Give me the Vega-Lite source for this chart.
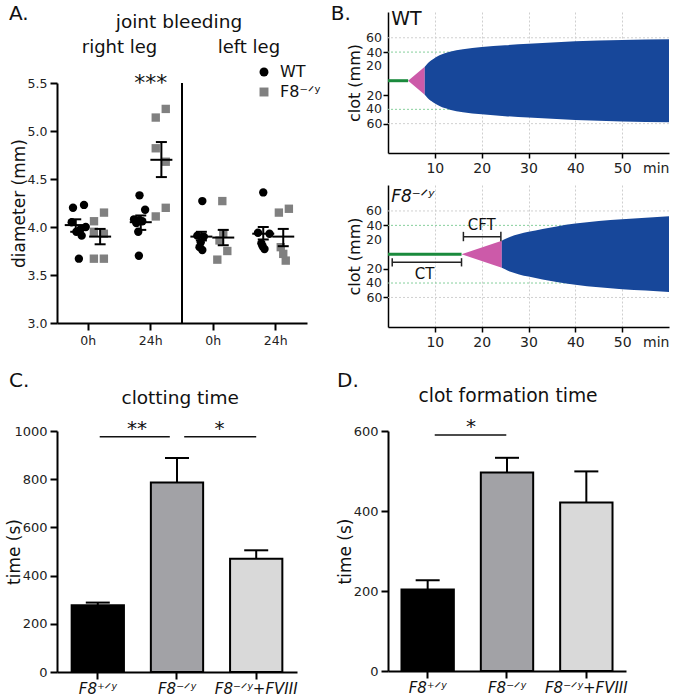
{
  "$schema": "https://vega.github.io/schema/vega-lite/v6.json",
  "padding": {"left": 5, "top": 4, "right": 3, "bottom": 1},
  "config": {
    "font": "DejaVu Sans",
    "view": {"stroke": null},
    "axis": {"domainColor": "#000", "domainWidth": 2, "tickColor": "#000", "tickWidth": 2, "tickSize": 7, "labelColor": "#222", "labelFontSize": 13, "labelPadding": 3, "labelOverlap": false, "titleFontWeight": "normal", "titleColor": "#111", "titleFontSize": 17, "grid": false},
    "legend": {"labelColor": "#111", "padding": 0},
    "title": {"fontWeight": "normal", "color": "#111"},
    "text": {"color": "#111", "baseline": "alphabetic"}
  },
  "datasets": {
    "jointPoints": [
      {"group": "R0h", "genotype": "WT", "diameter": 4.20, "jitter": -0.244},
      {"group": "R0h", "genotype": "WT", "diameter": 4.23, "jitter": -0.068},
      {"group": "R0h", "genotype": "WT", "diameter": 4.05, "jitter": -0.265},
      {"group": "R0h", "genotype": "WT", "diameter": 3.95, "jitter": -0.19},
      {"group": "R0h", "genotype": "WT", "diameter": 3.91, "jitter": -0.105},
      {"group": "R0h", "genotype": "WT", "diameter": 4.00, "jitter": -0.04},
      {"group": "R0h", "genotype": "WT", "diameter": 3.98, "jitter": -0.12},
      {"group": "R0h", "genotype": "WT", "diameter": 3.67, "jitter": -0.15},
      {"group": "R0h", "genotype": "F8\u207b\u141f\u02b8", "diameter": 4.15, "jitter": 0.252},
      {"group": "R0h", "genotype": "F8\u207b\u141f\u02b8", "diameter": 4.06, "jitter": 0.092},
      {"group": "R0h", "genotype": "F8\u207b\u141f\u02b8", "diameter": 3.95, "jitter": 0.09},
      {"group": "R0h", "genotype": "F8\u207b\u141f\u02b8", "diameter": 3.93, "jitter": 0.25},
      {"group": "R0h", "genotype": "F8\u207b\u141f\u02b8", "diameter": 3.67, "jitter": 0.09},
      {"group": "R0h", "genotype": "F8\u207b\u141f\u02b8", "diameter": 3.67, "jitter": 0.25},
      {"group": "R24h", "genotype": "WT", "diameter": 4.33, "jitter": -0.18},
      {"group": "R24h", "genotype": "WT", "diameter": 4.18, "jitter": -0.09},
      {"group": "R24h", "genotype": "WT", "diameter": 4.08, "jitter": -0.268},
      {"group": "R24h", "genotype": "WT", "diameter": 4.07, "jitter": -0.188},
      {"group": "R24h", "genotype": "WT", "diameter": 4.06, "jitter": -0.135},
      {"group": "R24h", "genotype": "WT", "diameter": 4.04, "jitter": -0.23},
      {"group": "R24h", "genotype": "WT", "diameter": 3.95, "jitter": -0.2},
      {"group": "R24h", "genotype": "WT", "diameter": 3.70, "jitter": -0.19},
      {"group": "R24h", "genotype": "F8\u207b\u141f\u02b8", "diameter": 5.14, "jitter": 0.08},
      {"group": "R24h", "genotype": "F8\u207b\u141f\u02b8", "diameter": 5.23, "jitter": 0.24},
      {"group": "R24h", "genotype": "F8\u207b\u141f\u02b8", "diameter": 4.82, "jitter": 0.08},
      {"group": "R24h", "genotype": "F8\u207b\u141f\u02b8", "diameter": 4.68, "jitter": 0.24},
      {"group": "R24h", "genotype": "F8\u207b\u141f\u02b8", "diameter": 4.20, "jitter": 0.24},
      {"group": "R24h", "genotype": "F8\u207b\u141f\u02b8", "diameter": 4.11, "jitter": 0.08},
      {"group": "L0h", "genotype": "WT", "diameter": 4.27, "jitter": -0.175},
      {"group": "L0h", "genotype": "WT", "diameter": 3.91, "jitter": -0.255},
      {"group": "L0h", "genotype": "WT", "diameter": 3.90, "jitter": -0.15},
      {"group": "L0h", "genotype": "WT", "diameter": 3.84, "jitter": -0.2},
      {"group": "L0h", "genotype": "WT", "diameter": 3.76, "jitter": -0.175},
      {"group": "L0h", "genotype": "WT", "diameter": 3.79, "jitter": -0.22},
      {"group": "L0h", "genotype": "F8\u207b\u141f\u02b8", "diameter": 4.27, "jitter": 0.145},
      {"group": "L0h", "genotype": "F8\u207b\u141f\u02b8", "diameter": 3.93, "jitter": 0.16},
      {"group": "L0h", "genotype": "F8\u207b\u141f\u02b8", "diameter": 3.86, "jitter": 0.1},
      {"group": "L0h", "genotype": "F8\u207b\u141f\u02b8", "diameter": 3.75, "jitter": 0.225},
      {"group": "L0h", "genotype": "F8\u207b\u141f\u02b8", "diameter": 3.66, "jitter": 0.065},
      {"group": "L24h", "genotype": "WT", "diameter": 4.36, "jitter": -0.2},
      {"group": "L24h", "genotype": "WT", "diameter": 3.94, "jitter": -0.284},
      {"group": "L24h", "genotype": "WT", "diameter": 3.93, "jitter": -0.1},
      {"group": "L24h", "genotype": "WT", "diameter": 3.83, "jitter": -0.23},
      {"group": "L24h", "genotype": "WT", "diameter": 3.77, "jitter": -0.18},
      {"group": "L24h", "genotype": "WT", "diameter": 3.80, "jitter": -0.21},
      {"group": "L24h", "genotype": "F8\u207b\u141f\u02b8", "diameter": 4.19, "jitter": 0.21},
      {"group": "L24h", "genotype": "F8\u207b\u141f\u02b8", "diameter": 4.15, "jitter": 0.05},
      {"group": "L24h", "genotype": "F8\u207b\u141f\u02b8", "diameter": 3.79, "jitter": 0.08},
      {"group": "L24h", "genotype": "F8\u207b\u141f\u02b8", "diameter": 3.65, "jitter": 0.16},
      {"group": "L24h", "genotype": "F8\u207b\u141f\u02b8", "diameter": 3.72, "jitter": 0.12}
    ],
    "jointSummary": [
      {"group": "R0h", "genotype": "WT", "jitter": -0.2, "mean": 4.02, "lower": 3.95, "upper": 4.08},
      {"group": "R0h", "genotype": "F8", "jitter": 0.19, "mean": 3.90, "lower": 3.82, "upper": 3.98},
      {"group": "R24h", "genotype": "WT", "jitter": -0.16, "mean": 4.05, "lower": 3.97, "upper": 4.12},
      {"group": "R24h", "genotype": "F8", "jitter": 0.17, "mean": 4.70, "lower": 4.52, "upper": 4.885},
      {"group": "L0h", "genotype": "WT", "jitter": -0.19, "mean": 3.90, "lower": 3.86, "upper": 3.95},
      {"group": "L0h", "genotype": "F8", "jitter": 0.16, "mean": 3.89, "lower": 3.81, "upper": 3.97},
      {"group": "L24h", "genotype": "WT", "jitter": -0.2, "mean": 3.93, "lower": 3.87, "upper": 4.0},
      {"group": "L24h", "genotype": "F8", "jitter": 0.12, "mean": 3.90, "lower": 3.80, "upper": 3.98}
    ],
    "clotWT": [
      {"phase": "CT", "t": 0, "hi": 0, "lo": 0},
      {"phase": "CT", "t": 4.3, "hi": 0, "lo": 0},
      {"phase": "CFT", "t": 4.3, "hi": 0, "lo": 0},
      {"phase": "CFT", "t": 7.85, "hi": 19.6, "lo": -19.6},
      {"phase": "MCF", "t": 7.85, "hi": 19.6, "lo": -19.6},
      {"phase": "MCF", "t": 8.5, "hi": 24.5, "lo": -24.5},
      {"phase": "MCF", "t": 9.6, "hi": 30, "lo": -30},
      {"phase": "MCF", "t": 11, "hi": 35.5, "lo": -35.5},
      {"phase": "MCF", "t": 13.2, "hi": 40.5, "lo": -40.5},
      {"phase": "MCF", "t": 16, "hi": 44, "lo": -44},
      {"phase": "MCF", "t": 20, "hi": 47, "lo": -47},
      {"phase": "MCF", "t": 25, "hi": 49.5, "lo": -49.5},
      {"phase": "MCF", "t": 30, "hi": 51.5, "lo": -51.5},
      {"phase": "MCF", "t": 40, "hi": 55, "lo": -55},
      {"phase": "MCF", "t": 50, "hi": 57, "lo": -57},
      {"phase": "MCF", "t": 60, "hi": 58, "lo": -58}
    ],
    "clotF8": [
      {"phase": "CT", "t": 0, "hi": 0, "lo": 0},
      {"phase": "CT", "t": 15.7, "hi": 0, "lo": 0},
      {"phase": "CFT", "t": 15.7, "hi": 0, "lo": 0},
      {"phase": "CFT", "t": 24.3, "hi": 18.7, "lo": -18.7},
      {"phase": "MCF", "t": 24.3, "hi": 18.7, "lo": -18.7},
      {"phase": "MCF", "t": 25, "hi": 21, "lo": -21},
      {"phase": "MCF", "t": 26, "hi": 24, "lo": -24},
      {"phase": "MCF", "t": 28, "hi": 28, "lo": -28},
      {"phase": "MCF", "t": 30, "hi": 31, "lo": -31},
      {"phase": "MCF", "t": 33, "hi": 35, "lo": -35},
      {"phase": "MCF", "t": 36, "hi": 38.5, "lo": -38.5},
      {"phase": "MCF", "t": 40, "hi": 42.5, "lo": -42.5},
      {"phase": "MCF", "t": 45, "hi": 46, "lo": -46},
      {"phase": "MCF", "t": 50, "hi": 48.5, "lo": -48.5},
      {"phase": "MCF", "t": 55, "hi": 50.5, "lo": -50.5},
      {"phase": "MCF", "t": 60, "hi": 52.5, "lo": -52.5}
    ],
    "clottingTime": [
      {"group": "F8\u207a\u141f\u02b8", "mean": 277, "upper": 288},
      {"group": "F8\u207b\u141f\u02b8", "mean": 786, "upper": 888},
      {"group": "F8\u207b\u141f\u02b8+FVIII", "mean": 470, "upper": 505}
    ],
    "clotFormationTime": [
      {"group": "F8\u207a\u141f\u02b8", "mean": 204, "upper": 227},
      {"group": "F8\u207b\u141f\u02b8", "mean": 496, "upper": 533},
      {"group": "F8\u207b\u141f\u02b8+FVIII", "mean": 421, "upper": 499}
    ]
  },
  "resolve": {"scale": {"color": "independent", "fill": "independent", "shape": "independent", "xOffset": "independent"}},
  "spacing": 9,
  "hconcat": [
    {
      "bounds": "flush",
      "spacing": 32,
      "resolve": {"scale": {"color": "independent", "fill": "independent", "shape": "independent", "xOffset": "independent"}},
      "vconcat": [
        {"width": 250, "height": 39, "data": {"values": [{}]}, "mark": {"type": "point", "opacity": 0}, "encoding": {}},
        {
          "width": 250, "height": 240,
          "resolve": {"scale": {"x": "independent"}},
          "layer": [
            {
              "layer": [
                {
                  "data": {"name": "jointPoints"},
                  "mark": {"type": "point", "filled": true, "size": 70, "opacity": 1},
                  "encoding": {
                    "x": {"field": "group", "type": "nominal", "scale": {"type": "band", "domain": ["R0h", "R24h", "L0h", "L24h"], "paddingInner": 0, "paddingOuter": 0},
                      "axis": {"title": null, "labelExpr": "slice(datum.value, 1)", "labelFontSize": 12.5, "labelAngle": 0, "labelPadding": 4}},
                    "xOffset": {"field": "jitter", "type": "quantitative", "scale": {"domain": [-0.5, 0.5], "nice": false, "zero": false}},
                    "y": {"field": "diameter", "type": "quantitative", "scale": {"domain": [3, 5.5], "nice": false, "zero": false},
                      "axis": {"values": [3, 3.5, 4, 4.5, 5, 5.5], "format": ".1f", "labelFontSize": 12.5, "title": "diameter (mm)", "titleX": -29}},
                    "shape": {"field": "genotype", "type": "nominal", "scale": {"domain": ["WT", "F8\u207b\u141f\u02b8"], "range": ["circle", "square"]},
                      "legend": {"orient": "none", "legendX": 199, "legendY": -19, "title": null, "labelFontSize": 16, "symbolSize": 80, "rowPadding": 4, "labelOffset": 8, "symbolStrokeWidth": 0, "encode": {"labels": {"update": {"fontStyle": {"signal": "datum.label == 'WT' ? 'normal' : 'italic'"}}}}}},
                    "color": {"field": "genotype", "type": "nominal", "scale": {"domain": ["WT", "F8\u207b\u141f\u02b8"], "range": ["#000000", "#808080"]},
                      "legend": {"orient": "none", "legendX": 199, "legendY": -19, "title": null, "labelFontSize": 16, "symbolSize": 80, "rowPadding": 4, "labelOffset": 8, "symbolStrokeWidth": 0, "encode": {"labels": {"update": {"fontStyle": {"signal": "datum.label == 'WT' ? 'normal' : 'italic'"}}}}}}
                  }
                },
                {
                  "data": {"name": "jointSummary"},
                  "mark": {"type": "tick", "color": "#000", "thickness": 2, "size": 22, "opacity": 1},
                  "encoding": {"x": {"field": "group", "type": "nominal"}, "xOffset": {"field": "jitter", "type": "quantitative"}, "y": {"field": "mean", "type": "quantitative"}}
                },
                {
                  "data": {"name": "jointSummary"},
                  "mark": {"type": "rule", "color": "#000", "strokeWidth": 2},
                  "encoding": {"x": {"field": "group", "type": "nominal"}, "xOffset": {"field": "jitter", "type": "quantitative"}, "y": {"field": "lower", "type": "quantitative"}, "y2": {"field": "upper"}}
                },
                {
                  "data": {"name": "jointSummary"},
                  "mark": {"type": "tick", "color": "#000", "thickness": 2, "size": 11, "opacity": 1},
                  "encoding": {"x": {"field": "group", "type": "nominal"}, "xOffset": {"field": "jitter", "type": "quantitative"}, "y": {"field": "lower", "type": "quantitative"}}
                },
                {
                  "data": {"name": "jointSummary"},
                  "mark": {"type": "tick", "color": "#000", "thickness": 2, "size": 11, "opacity": 1},
                  "encoding": {"x": {"field": "group", "type": "nominal"}, "xOffset": {"field": "jitter", "type": "quantitative"}, "y": {"field": "upper", "type": "quantitative"}}
                },
                {
                  "data": {"values": [{}]},
                  "mark": {"type": "rule", "color": "#000", "strokeWidth": 2},
                  "encoding": {"x": {"datum": "L0h", "type": "nominal", "bandPosition": 0}, "y": {"datum": 3, "type": "quantitative"}, "y2": {"datum": 5.5}}
                }
              ]
            },
            {
              "data": {"values": [{}]},
              "layer": [
                {"mark": {"type": "text", "text": "A.", "fontSize": 20, "align": "left"}, "encoding": {"x": {"datum": -0.768, "type": "quantitative", "scale": {"domain": [0, 4], "nice": false, "zero": false}, "axis": null}, "y": {"datum": 6.156, "type": "quantitative"}}},
                {"mark": {"type": "text", "text": "joint bleeding", "fontSize": 18.5, "align": "center"}, "encoding": {"x": {"datum": 1.952, "type": "quantitative", "axis": null}, "y": {"datum": 6.07, "type": "quantitative"}}},
                {"mark": {"type": "text", "text": "right leg", "fontSize": 18, "align": "center"}, "encoding": {"x": {"datum": 1.0, "type": "quantitative", "axis": null}, "y": {"datum": 5.809, "type": "quantitative"}}},
                {"mark": {"type": "text", "text": "left leg", "fontSize": 18, "align": "center"}, "encoding": {"x": {"datum": 3.07, "type": "quantitative", "axis": null}, "y": {"datum": 5.809, "type": "quantitative"}}},
                {"mark": {"type": "text", "text": "***", "fontSize": 22, "align": "center"}, "encoding": {"x": {"datum": 1.5, "type": "quantitative", "axis": null}, "y": {"datum": 5.427, "type": "quantitative"}}}
              ]
            }
          ]
        },
        {"width": 250, "height": 44, "data": {"values": [{}]}, "mark": {"type": "point", "opacity": 0}, "encoding": {}},
        {
          "width": 240, "height": 241,
          "resolve": {"scale": {"x": "independent"}},
          "layer": [
            {
              "data": {"name": "clottingTime"},
              "layer": [
                {
                  "mark": {"type": "bar", "stroke": "#000", "strokeWidth": 2, "width": {"band": 1}},
                  "encoding": {
                    "x": {"field": "group", "type": "nominal", "sort": null, "scale": {"domain": ["F8\u207a\u141f\u02b8", "F8\u207b\u141f\u02b8", "F8\u207b\u141f\u02b8+FVIII"], "paddingInner": 0.34, "paddingOuter": 0.185},
                      "axis": {"title": null, "labelAngle": 0, "labelFontSize": 15, "labelFontStyle": "italic", "labelPadding": 2, "labelColor": "#111"}},
                    "y": {"field": "mean", "type": "quantitative", "scale": {"domain": [0, 1000], "nice": false},
                      "axis": {"values": [0, 200, 400, 600, 800, 1000], "format": "d", "title": "time (s)", "titleX": -34}},
                    "fill": {"field": "group", "type": "nominal", "scale": {"domain": ["F8\u207a\u141f\u02b8", "F8\u207b\u141f\u02b8", "F8\u207b\u141f\u02b8+FVIII"], "range": ["#000000", "#a2a2a6", "#d9d9d9"]}, "legend": null}
                  }
                },
                {"mark": {"type": "rule", "color": "#000", "strokeWidth": 2}, "encoding": {"x": {"field": "group", "type": "nominal"}, "y": {"field": "mean", "type": "quantitative"}, "y2": {"field": "upper"}}},
                {"mark": {"type": "tick", "color": "#000", "thickness": 2, "size": 24, "opacity": 1}, "encoding": {"x": {"field": "group", "type": "nominal"}, "y": {"field": "upper", "type": "quantitative"}}}
              ]
            },
            {
              "data": {"values": [{}]},
              "layer": [
                {"mark": {"type": "text", "text": "C.", "fontSize": 20, "align": "left"}, "encoding": {"x": {"datum": -0.6, "type": "quantitative", "scale": {"domain": [0, 3], "nice": false, "zero": false}, "axis": null}, "y": {"datum": 1182, "type": "quantitative"}}},
                {"mark": {"type": "text", "text": "clotting time", "fontSize": 18.5, "align": "center"}, "encoding": {"x": {"datum": 1.54, "type": "quantitative", "axis": null}, "y": {"datum": 1111, "type": "quantitative"}}},
                {"mark": {"type": "rule", "color": "#111", "strokeWidth": 1.5}, "encoding": {"x": {"datum": 0.534, "type": "quantitative", "axis": null}, "x2": {"datum": 1.41}, "y": {"datum": 976, "type": "quantitative"}}},
                {"mark": {"type": "rule", "color": "#111", "strokeWidth": 1.5}, "encoding": {"x": {"datum": 1.59, "type": "quantitative", "axis": null}, "x2": {"datum": 2.49}, "y": {"datum": 976, "type": "quantitative"}}},
                {"mark": {"type": "text", "text": "**", "fontSize": 20, "align": "center"}, "encoding": {"x": {"datum": 1.0, "type": "quantitative", "axis": null}, "y": {"datum": 985, "type": "quantitative"}}},
                {"mark": {"type": "text", "text": "*", "fontSize": 20, "align": "center"}, "encoding": {"x": {"datum": 2.03, "type": "quantitative", "axis": null}, "y": {"datum": 983, "type": "quantitative"}}}
              ]
            }
          ]
        }
      ]
    },
    {
      "bounds": "flush",
      "spacing": 32,
      "resolve": {"scale": {"xOffset": "independent"}},
      "vconcat": [
        {
          "width": 281, "height": 141,
          "layer": [
            {"data": {"values": [{}]}, "mark": {"type": "rule", "color": "#d0d0d0", "strokeWidth": 1, "strokeDash": [2, 2]}, "encoding": {"y": {"datum": 60, "type": "quantitative"}}},
            {"data": {"values": [{}]}, "mark": {"type": "rule", "color": "#d0d0d0", "strokeWidth": 1, "strokeDash": [2, 2]}, "encoding": {"y": {"datum": -60, "type": "quantitative"}}},
            {"data": {"values": [{}]}, "mark": {"type": "rule", "color": "#86cf9c", "strokeWidth": 1, "strokeDash": [2, 2]}, "encoding": {"y": {"datum": 40, "type": "quantitative"}}},
            {"data": {"values": [{}]}, "mark": {"type": "rule", "color": "#86cf9c", "strokeWidth": 1, "strokeDash": [2, 2]}, "encoding": {"y": {"datum": -40, "type": "quantitative"}}},
            {
              "data": {"name": "clotWT"},
              "transform": [{"filter": "datum.phase !== 'CT'"}],
              "mark": {"type": "area", "interpolate": "monotone"},
              "encoding": {
                "x": {"field": "t", "type": "quantitative", "scale": {"domain": [0, 60], "nice": false},
                  "axis": {"values": [10, 20, 30, 40, 50, 60], "labelExpr": "datum.value == 60 ? 'min' : datum.label", "tickOpacity": {"condition": {"test": "datum.value == 60", "value": 0}, "value": 1}, "grid": true, "gridDash": [2, 2], "gridColor": "#cfcfcf", "gridOpacity": {"condition": {"test": "datum.value == 60", "value": 0}, "value": 1}, "domainWidth": 1.5, "tickWidth": 1.5, "tickSize": 5, "labelFontSize": 14, "labelPadding": 3, "labelOverlap": false, "title": null}},
                "y": {"field": "hi", "type": "quantitative", "scale": {"domain": [-101, 96], "nice": false, "zero": false},
                  "axis": {"values": [-60, -40, -20, 20, 40, 60], "labelExpr": "'' + abs(datum.value)", "labelOverlap": false, "labelBound": false, "grid": false, "title": "clot (mm)", "titleFontSize": 16, "titleX": -26, "domainWidth": 1.5, "tickWidth": 1.5, "tickSize": 5, "labelFontSize": 12.5, "labelPadding": 1}},
                "y2": {"field": "lo"},
                "color": {"field": "phase", "type": "nominal", "scale": {"domain": ["CFT", "MCF"], "range": ["#cc5aa9", "#17479a"]}, "legend": null}
              }
            },
            {
              "data": {"name": "clotWT"},
              "transform": [{"filter": "datum.phase === 'CT'"}],
              "mark": {"type": "line", "color": "#1a8a3c", "strokeWidth": 3},
              "encoding": {"x": {"field": "t", "type": "quantitative"}, "y": {"field": "hi", "type": "quantitative"}}
            },
            {"data": {"values": [{}]}, "mark": {"type": "text", "text": "60", "fontSize": 12.5, "align": "right", "baseline": "middle", "color": "#222"}, "encoding": {"x": {"datum": -1.3, "type": "quantitative"}, "y": {"datum": 60, "type": "quantitative"}}},
            {"data": {"values": [{}]}, "mark": {"type": "text", "text": "20", "fontSize": 12.5, "align": "right", "baseline": "middle", "color": "#222"}, "encoding": {"x": {"datum": -1.3, "type": "quantitative"}, "y": {"datum": 20, "type": "quantitative"}}},
            {"data": {"values": [{}]}, "mark": {"type": "text", "text": "40", "fontSize": 12.5, "align": "right", "baseline": "middle", "color": "#222"}, "encoding": {"x": {"datum": -1.3, "type": "quantitative"}, "y": {"datum": -40, "type": "quantitative"}}},
            {"data": {"values": [{}]}, "mark": {"type": "text", "text": "B.", "fontSize": 20, "align": "left"}, "encoding": {"x": {"datum": -12.2, "type": "quantitative"}, "y": {"datum": 84.8, "type": "quantitative"}}},
            {"data": {"values": [{}]}, "mark": {"type": "text", "text": "WT", "fontSize": 19, "align": "left"}, "encoding": {"x": {"datum": 0.7, "type": "quantitative"}, "y": {"datum": 77.8, "type": "quantitative"}}}
          ]
        },
        {
          "width": 281, "height": 142,
          "layer": [
            {"data": {"values": [{}]}, "mark": {"type": "rule", "color": "#d0d0d0", "strokeWidth": 1, "strokeDash": [2, 2]}, "encoding": {"y": {"datum": 60, "type": "quantitative"}}},
            {"data": {"values": [{}]}, "mark": {"type": "rule", "color": "#d0d0d0", "strokeWidth": 1, "strokeDash": [2, 2]}, "encoding": {"y": {"datum": -60, "type": "quantitative"}}},
            {"data": {"values": [{}]}, "mark": {"type": "rule", "color": "#86cf9c", "strokeWidth": 1, "strokeDash": [2, 2]}, "encoding": {"y": {"datum": 40, "type": "quantitative"}}},
            {"data": {"values": [{}]}, "mark": {"type": "rule", "color": "#86cf9c", "strokeWidth": 1, "strokeDash": [2, 2]}, "encoding": {"y": {"datum": -40, "type": "quantitative"}}},
            {
              "data": {"name": "clotF8"},
              "transform": [{"filter": "datum.phase !== 'CT'"}],
              "mark": {"type": "area", "interpolate": "monotone"},
              "encoding": {
                "x": {"field": "t", "type": "quantitative", "scale": {"domain": [0, 60], "nice": false},
                  "axis": {"values": [10, 20, 30, 40, 50, 60], "labelExpr": "datum.value == 60 ? 'min' : datum.label", "tickOpacity": {"condition": {"test": "datum.value == 60", "value": 0}, "value": 1}, "grid": true, "gridDash": [2, 2], "gridColor": "#cfcfcf", "gridOpacity": {"condition": {"test": "datum.value == 60", "value": 0}, "value": 1}, "domainWidth": 1.5, "tickWidth": 1.5, "tickSize": 5, "labelFontSize": 14, "labelPadding": 3, "labelOverlap": false, "title": null}},
                "y": {"field": "hi", "type": "quantitative", "scale": {"domain": [-101, 96], "nice": false, "zero": false},
                  "axis": {"values": [-60, -40, -20, 20, 40, 60], "labelExpr": "'' + abs(datum.value)", "labelOverlap": false, "labelBound": false, "grid": false, "title": "clot (mm)", "titleFontSize": 16, "titleX": -26, "domainWidth": 1.5, "tickWidth": 1.5, "tickSize": 5, "labelFontSize": 12.5, "labelPadding": 1}},
                "y2": {"field": "lo"},
                "color": {"field": "phase", "type": "nominal", "scale": {"domain": ["CFT", "MCF"], "range": ["#cc5aa9", "#17479a"]}, "legend": null}
              }
            },
            {
              "data": {"name": "clotF8"},
              "transform": [{"filter": "datum.phase === 'CT'"}],
              "mark": {"type": "line", "color": "#1a8a3c", "strokeWidth": 3},
              "encoding": {"x": {"field": "t", "type": "quantitative"}, "y": {"field": "hi", "type": "quantitative"}}
            },
            {"data": {"values": [{}]}, "mark": {"type": "text", "text": "60", "fontSize": 12.5, "align": "right", "baseline": "middle", "color": "#222"}, "encoding": {"x": {"datum": -1.3, "type": "quantitative"}, "y": {"datum": 60, "type": "quantitative"}}},
            {"data": {"values": [{}]}, "mark": {"type": "text", "text": "20", "fontSize": 12.5, "align": "right", "baseline": "middle", "color": "#222"}, "encoding": {"x": {"datum": -1.3, "type": "quantitative"}, "y": {"datum": 20, "type": "quantitative"}}},
            {"data": {"values": [{}]}, "mark": {"type": "text", "text": "40", "fontSize": 12.5, "align": "right", "baseline": "middle", "color": "#222"}, "encoding": {"x": {"datum": -1.3, "type": "quantitative"}, "y": {"datum": -40, "type": "quantitative"}}},
            {"data": {"values": [{}]}, "mark": {"type": "rule", "color": "#222", "strokeWidth": 1.5}, "encoding": {"x": {"datum": 0.9, "type": "quantitative"}, "x2": {"datum": 15.7}, "y": {"datum": -11, "type": "quantitative"}}},
            {"data": {"values": [{}]}, "mark": {"type": "rule", "color": "#222", "strokeWidth": 1.5}, "encoding": {"x": {"datum": 0.9, "type": "quantitative"}, "y": {"datum": -5.5, "type": "quantitative"}, "y2": {"datum": -17}}},
            {"data": {"values": [{}]}, "mark": {"type": "rule", "color": "#222", "strokeWidth": 1.5}, "encoding": {"x": {"datum": 15.7, "type": "quantitative"}, "y": {"datum": -5.5, "type": "quantitative"}, "y2": {"datum": -17}}},
            {"data": {"values": [{}]}, "mark": {"type": "rule", "color": "#222", "strokeWidth": 1.5}, "encoding": {"x": {"datum": 16.1, "type": "quantitative"}, "x2": {"datum": 24.1}, "y": {"datum": 24.3, "type": "quantitative"}}},
            {"data": {"values": [{}]}, "mark": {"type": "rule", "color": "#222", "strokeWidth": 1.5}, "encoding": {"x": {"datum": 16.1, "type": "quantitative"}, "y": {"datum": 18, "type": "quantitative"}, "y2": {"datum": 31}}},
            {"data": {"values": [{}]}, "mark": {"type": "rule", "color": "#222", "strokeWidth": 1.5}, "encoding": {"x": {"datum": 24.1, "type": "quantitative"}, "y": {"datum": 18, "type": "quantitative"}, "y2": {"datum": 31}}},
            {"data": {"values": [{}]}, "mark": {"type": "text", "text": "CT", "fontSize": 15, "align": "center", "baseline": "middle"}, "encoding": {"x": {"datum": 7.8, "type": "quantitative"}, "y": {"datum": -28, "type": "quantitative"}}},
            {"data": {"values": [{}]}, "mark": {"type": "text", "text": "CFT", "fontSize": 15, "align": "center", "baseline": "middle"}, "encoding": {"x": {"datum": 20, "type": "quantitative"}, "y": {"datum": 40.5, "type": "quantitative"}}},
            {"data": {"values": [{}]}, "mark": {"type": "text", "text": "F8\u207b\u141f\u02b8", "fontSize": 17, "fontStyle": "italic", "align": "left"}, "encoding": {"x": {"datum": 0.7, "type": "quantitative"}, "y": {"datum": 72.8, "type": "quantitative"}}}
          ]
        },
        {"width": 281, "height": 40, "data": {"values": [{}]}, "mark": {"type": "point", "opacity": 0}, "encoding": {}},
        {
          "width": 238, "height": 240,
          "resolve": {"scale": {"x": "independent"}},
          "layer": [
            {
              "data": {"name": "clotFormationTime"},
              "layer": [
                {
                  "mark": {"type": "bar", "stroke": "#000", "strokeWidth": 2, "width": {"band": 1}},
                  "encoding": {
                    "x": {"field": "group", "type": "nominal", "sort": null, "scale": {"domain": ["F8\u207a\u141f\u02b8", "F8\u207b\u141f\u02b8", "F8\u207b\u141f\u02b8+FVIII"], "paddingInner": 0.34, "paddingOuter": 0.17},
                      "axis": {"title": null, "labelAngle": 0, "labelFontSize": 15, "labelFontStyle": "italic", "labelPadding": 2, "labelColor": "#111"}},
                    "y": {"field": "mean", "type": "quantitative", "scale": {"domain": [0, 600], "nice": false},
                      "axis": {"values": [0, 200, 400, 600], "format": "d", "title": "time (s)", "titleX": -34}},
                    "fill": {"field": "group", "type": "nominal", "scale": {"domain": ["F8\u207a\u141f\u02b8", "F8\u207b\u141f\u02b8", "F8\u207b\u141f\u02b8+FVIII"], "range": ["#000000", "#a2a2a6", "#d9d9d9"]}, "legend": null}
                  }
                },
                {"mark": {"type": "rule", "color": "#000", "strokeWidth": 2}, "encoding": {"x": {"field": "group", "type": "nominal"}, "y": {"field": "mean", "type": "quantitative"}, "y2": {"field": "upper"}}},
                {"mark": {"type": "tick", "color": "#000", "thickness": 2, "size": 24, "opacity": 1}, "encoding": {"x": {"field": "group", "type": "nominal"}, "y": {"field": "upper", "type": "quantitative"}}}
              ]
            },
            {
              "data": {"values": [{}]},
              "layer": [
                {"mark": {"type": "text", "text": "D.", "fontSize": 20, "align": "left"}, "encoding": {"x": {"datum": -0.643, "type": "quantitative", "scale": {"domain": [0, 3], "nice": false, "zero": false}, "axis": null}, "y": {"datum": 711, "type": "quantitative"}}},
                {"mark": {"type": "text", "text": "clot formation time", "fontSize": 18.7, "align": "center"}, "encoding": {"x": {"datum": 1.513, "type": "quantitative", "axis": null}, "y": {"datum": 672, "type": "quantitative"}}},
                {"mark": {"type": "rule", "color": "#111", "strokeWidth": 1.5}, "encoding": {"x": {"datum": 0.589, "type": "quantitative", "axis": null}, "x2": {"datum": 1.491}, "y": {"datum": 590, "type": "quantitative"}}},
                {"mark": {"type": "text", "text": "*", "fontSize": 20, "align": "center"}, "encoding": {"x": {"datum": 1.046, "type": "quantitative", "axis": null}, "y": {"datum": 596, "type": "quantitative"}}}
              ]
            }
          ]
        }
      ]
    }
  ]
}
